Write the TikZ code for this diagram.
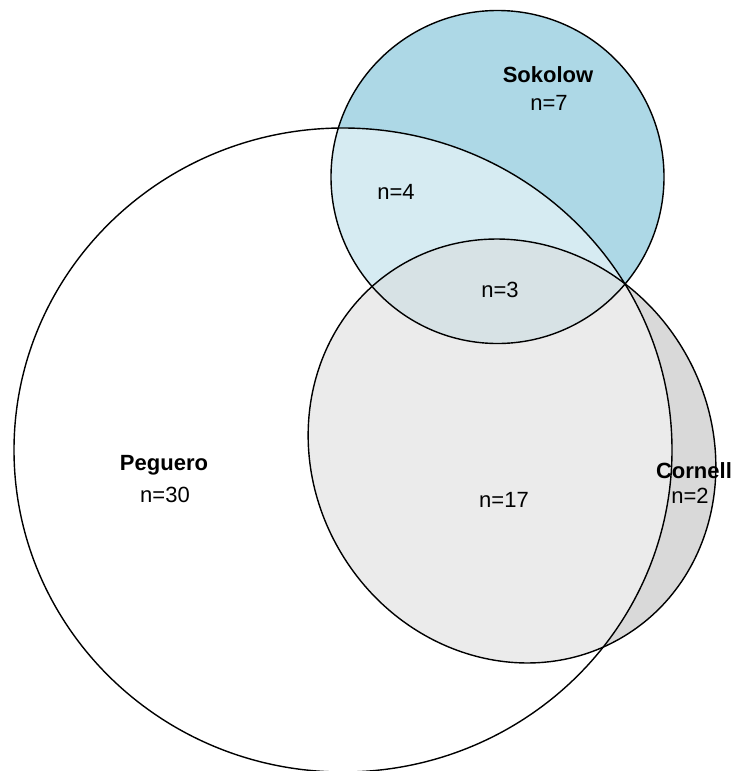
\documentclass[tikz,border=0pt]{standalone}
\usepackage{fontspec}
\setmainfont{Liberation Sans}
\usepackage{tikz}

\definecolor{sokoblue}{HTML}{ADD8E6}
\definecolor{cornellgray}{HTML}{B3B3B3}
\newcommand{\lblfont}{\fontsize{22}{26}\selectfont}

\tikzset{
  setline/.style={draw=black,line width=1.4pt},
  lbl/.style={anchor=base,inner sep=0pt,font=\lblfont},
  setname/.style={lbl,font=\lblfont\bfseries}
}

\begin{document}
\begin{tikzpicture}[x=1pt,y=-1pt]
\clip (0,0) rectangle (737,771);

%% fills
\fill[sokoblue] (497.5,177) circle (166.5);
\fill[cornellgray,opacity=0.5,rotate around={31.2:(512,451)}] (512,451) ellipse [x radius=199, y radius=216.5];
\fill[white,opacity=0.5] (343,450) ellipse [x radius=329, y radius=322];

%% outlines
\draw[setline] (497.5,177) circle (166.5);
\draw[setline,rotate around={31.2:(512,451)}] (512,451) ellipse [x radius=199, y radius=216.5];
\draw[setline] (343,450) ellipse [x radius=329, y radius=322];

%% labels
\node[setname] (sokolow) at (548,82) {Sokolow};
\node[lbl] (sokolowonly) at (549,110) {n=7};
\node[lbl] (sokpeg) at (396,199) {n=4};
\node[lbl] (allthree) at (500,297) {n=3};
\node[setname] (peguero) at (164,470) {Peguero};
\node[lbl] (peguerоonly) at (165,502) {n=30};
\node[lbl] (pegcorn) at (504,507) {n=17};
\node[setname] (cornell) at (694,478) {Cornell};
\node[lbl] (cornellonly) at (690,503) {n=2};
\end{tikzpicture}
\end{document}
